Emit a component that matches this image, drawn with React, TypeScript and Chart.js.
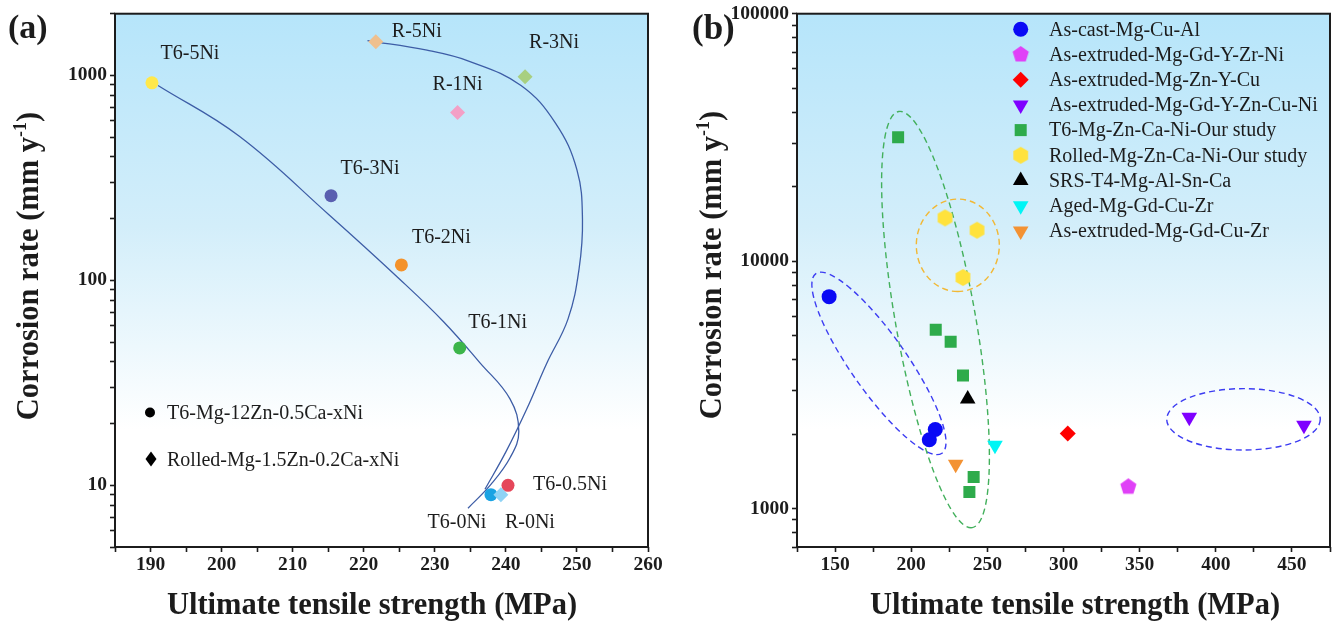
import React, { useEffect, useRef } from 'react';
import { Chart, registerables } from 'chart.js';
import { drawPoint } from 'chart.js/helpers';

Chart.register(...registerables);

const SERIF = '"Liberation Serif", "Times New Roman", serif';
const INK = '#1c1c1c';

// ---------- Panel (a): corrosion rate vs UTS for the Ni series ----------
const t6Names = ['T6-0Ni', 'T6-0.5Ni', 'T6-1Ni', 'T6-2Ni', 'T6-3Ni', 'T6-5Ni'];
const t6Uts = [237.9, 240.3, 233.5, 225.3, 215.4, 190.2];
const t6Rate = [9.0, 10.0, 46.8, 119, 259, 920];
const t6Colors = ['#1aa3e3', '#e5475a', '#3cb54a', '#f4922a', '#5a5fb0', '#ffe84a'];

const rolledNames = ['R-0Ni', 'R-1Ni', 'R-3Ni', 'R-5Ni'];
const rolledUts = [239.3, 233.2, 242.7, 221.7];
const rolledRate = [9.0, 659, 986, 1460];
const rolledColors = ['#8fd3f5', '#f3a0c6', '#a8cf80', '#efc08e'];

// hand-drawn trend curves through each series
const t6TrendUts = [191.05, 202.45, 215.1, 225.1, 231.3, 236.36, 240.58, 241.82, 240.63, 237.9, 234.67];
const t6TrendRate = [893, 506, 209, 101, 62.5, 39.6, 26.4, 18.3, 13.7, 10.1, 7.73];
const rolledTrendUts = [220.53, 228.9, 234.95, 242.13, 246.98, 250.0, 250.78, 250.29, 248.74, 245.71, 242.97, 240.02, 237.06];
const rolledTrendRate = [1479, 1327, 1169, 893, 585, 346, 198, 113, 64.7, 39.1, 23.7, 14.6, 9.57];

const legendA = ['T6-Mg-12Zn-0.5Ca-xNi', 'Rolled-Mg-1.5Zn-0.2Ca-xNi'];

const xTicksA = { min: 185, max: 260, step: 5, labelEvery: 10 };
const yMajorA = [10, 100, 1000];

// ---------- Panel (b): comparison with other Mg alloys ----------
const groupNames = [
  'As-cast-Mg-Cu-Al',
  'As-extruded-Mg-Gd-Y-Zr-Ni',
  'As-extruded-Mg-Zn-Y-Cu',
  'As-extruded-Mg-Gd-Y-Zn-Cu-Ni',
  'T6-Mg-Zn-Ca-Ni-Our study',
  'Rolled-Mg-Zn-Ca-Ni-Our study',
  'SRS-T4-Mg-Al-Sn-Ca',
  'Aged-Mg-Gd-Cu-Zr',
  'As-extruded-Mg-Gd-Cu-Zr',
];
const castUts = [146.1, 215.8, 211.9];
const castRate = [7190, 2090, 1900];
const gdYZrNiUts = [342.6];
const gdYZrNiRate = [1226];
const znYCuUts = [302.8];
const znYCuRate = [2013];
const gdYZnCuNiUts = [382.6, 457.9];
const gdYZnCuNiRate = [2339, 2174];
const t6StudyUts = [191.4, 216.1, 225.9, 234.0, 241.0, 238.2];
const t6StudyRate = [31700, 5280, 4730, 3450, 1342, 1168];
const rolledStudyUts = [222.2, 243.2, 234.0];
const rolledStudyRate = [14960, 13340, 8590];
const srsUts = [237.1];
const srsRate = [2772];
const agedUts = [255.0];
const agedRate = [1805];
const gdCuZrUts = [229.2];
const gdCuZrRate = [1510];

const xTicksB = { min: 125, max: 475, step: 25, labelEvery: 50 };
const yMajorB = [1000, 10000, 100000];

// dashed group outlines: major-axis end points (data units) and half width (px)
const groupOutlines = [
  { from: [137.4, 8910], to: [220.2, 1675], halfWidth: 28, color: '#3c3cf2' },
  { from: [191.8, 40270], to: [240.1, 838], halfWidth: 40, color: '#43b05c' },
  { from: [230.6, 17830], to: [230.6, 7540], halfWidth: 41.5, color: '#f2b834' },
  { from: [367.8, 2296], to: [468.6, 2296], halfWidth: 30.7, color: '#3c3cf2' },
];

// ---------- helpers ----------
function zip(xs: number[], ys: number[]) {
  return xs.map((x, i) => ({ x, y: ys[i] }));
}

function logTickValues(min: number, max: number) {
  const out: number[] = [];
  for (let e = Math.floor(Math.log10(min)); Math.pow(10, e) <= max; e++) {
    for (let m = 1; m < 10; m++) {
      const v = m * Math.pow(10, e);
      if (v >= min - 1e-9 && v <= max + 1e-9) out.push(v);
    }
  }
  return out;
}

function polygonImage(sides: number, radius: number, color: string) {
  const size = Math.ceil(radius * 2 + 2);
  const c = document.createElement('canvas');
  c.width = size;
  c.height = size;
  const g = c.getContext('2d')!;
  g.fillStyle = color;
  g.beginPath();
  for (let i = 0; i < sides; i++) {
    const a = (i * 2 * Math.PI) / sides;
    g.lineTo(size / 2 + radius * Math.sin(a), size / 2 - radius * Math.cos(a));
  }
  g.closePath();
  g.fill();
  return c;
}

const tickFont = { family: SERIF, size: 19.5, weight: 'bold' as const, lineHeight: 1.1 };

function xScale(t: { min: number; max: number; step: number; labelEvery: number }, height: number) {
  return {
    type: 'linear' as const,
    min: t.min,
    max: t.max,
    border: { display: false },
    grid: { drawOnChartArea: false, drawTicks: true, tickLength: 5, tickWidth: 1.6, tickColor: INK },
    ticks: {
      stepSize: t.step,
      autoSkip: false,
      maxRotation: 0,
      padding: 2,
      color: INK,
      font: tickFont,
      callback: (v: any) => (Math.abs(v % t.labelEvery) < 1e-6 ? String(v) : ''),
    },
    afterFit: (s: any) => {
      s.height = height;
    },
  };
}

function yScale(min: number, max: number, majors: number[], width: number) {
  return {
    type: 'logarithmic' as const,
    min,
    max,
    border: { display: false },
    grid: { drawOnChartArea: false, drawTicks: true, tickLength: 5, tickWidth: 1.6, tickColor: INK },
    afterBuildTicks: (s: any) => {
      s.ticks = logTickValues(min, max).map((value) => ({ value }));
    },
    ticks: {
      autoSkip: false,
      padding: 3,
      color: INK,
      font: tickFont,
      callback: (v: any) => (majors.some((m) => Math.abs(m - v) < 1e-6) ? String(v) : ''),
    },
    afterFit: (s: any) => {
      s.width = width;
    },
  };
}

const backdrop = {
  id: 'backdrop',
  beforeDraw(chart: any) {
    const { ctx, chartArea: a } = chart;
    const g = ctx.createLinearGradient(0, a.top, 0, a.bottom);
    g.addColorStop(0, '#b6e5fa');
    g.addColorStop(0.4, '#d3eefa');
    g.addColorStop(0.78, '#ffffff');
    g.addColorStop(1, '#ffffff');
    ctx.save();
    ctx.fillStyle = g;
    ctx.fillRect(a.left, a.top, a.width, a.height);
    ctx.restore();
  },
  afterDraw(chart: any) {
    const { ctx, chartArea: a } = chart;
    ctx.save();
    ctx.strokeStyle = INK;
    ctx.lineWidth = 2;
    ctx.strokeRect(a.left, a.top, a.width, a.height);
    ctx.restore();
  },
};

function drawAxisTitles(ctx: CanvasRenderingContext2D, xc: number, xBase: number, yBase: number, yc: number) {
  const big = `bold 30.5px ${SERIF}`;
  const small = `bold 18px ${SERIF}`;
  ctx.save();
  ctx.fillStyle = INK;
  ctx.font = big;
  ctx.textAlign = 'center';
  ctx.textBaseline = 'alphabetic';
  ctx.fillText('Ultimate tensile strength (MPa)', xc, xBase);
  ctx.restore();

  ctx.save();
  ctx.fillStyle = INK;
  ctx.translate(yBase, yc);
  ctx.rotate(-Math.PI / 2);
  ctx.textAlign = 'left';
  ctx.textBaseline = 'alphabetic';
  const head = 'Corrosion rate (mm y';
  const sup = '-1';
  const tail = ')';
  ctx.font = big;
  const w1 = ctx.measureText(head).width;
  const w3 = ctx.measureText(tail).width;
  ctx.font = small;
  const w2 = ctx.measureText(sup).width;
  let x = -(w1 + w2 + w3) / 2;
  ctx.font = big;
  ctx.fillText(head, x, 0);
  x += w1;
  ctx.font = small;
  ctx.fillText(sup, x, -12);
  x += w2;
  ctx.font = big;
  ctx.fillText(tail, x, 0);
  ctx.restore();
}

// label offsets (px) relative to each marker
const t6LabelOffsets = [
  [-34, 28],
  [62, -1],
  [38, -25],
  [40, -27],
  [39, -27],
  [38, -29],
];
const rolledLabelOffsets = [
  [29, 28],
  [0, -28],
  [29, -34],
  [41, -10],
];

const panelAText = {
  id: 'panelAText',
  afterDraw(chart: any) {
    const { ctx } = chart;
    const xs = chart.scales.x;
    const ys = chart.scales.y;
    ctx.save();
    ctx.fillStyle = INK;
    ctx.font = `20px ${SERIF}`;
    ctx.textAlign = 'center';
    ctx.textBaseline = 'middle';
    t6Names.forEach((n, i) => {
      const px = xs.getPixelForValue(t6Uts[i]);
      const py = ys.getPixelForValue(t6Rate[i]);
      ctx.fillText(n, px + t6LabelOffsets[i][0], py + t6LabelOffsets[i][1]);
    });
    rolledNames.forEach((n, i) => {
      const px = xs.getPixelForValue(rolledUts[i]);
      const py = ys.getPixelForValue(rolledRate[i]);
      ctx.fillText(n, px + rolledLabelOffsets[i][0], py + rolledLabelOffsets[i][1]);
    });

    // series key
    ctx.fillStyle = '#000';
    ctx.beginPath();
    ctx.arc(150, 412.5, 5, 0, Math.PI * 2);
    ctx.fill();
    ctx.beginPath();
    ctx.moveTo(151, 451.5);
    ctx.lineTo(156.5, 459);
    ctx.lineTo(151, 466.5);
    ctx.lineTo(145.5, 459);
    ctx.closePath();
    ctx.fill();
    ctx.fillStyle = INK;
    ctx.textAlign = 'left';
    ctx.fillText(legendA[0], 167, 414);
    ctx.fillText(legendA[1], 167, 461);

    ctx.font = `bold 34px ${SERIF}`;
    ctx.textAlign = 'left';
    ctx.textBaseline = 'alphabetic';
    ctx.fillText('(a)', 8, 38);
    ctx.restore();

    drawAxisTitles(ctx, 372, 614, 38, 266);
  },
};

const outlines = {
  id: 'outlines',
  beforeDatasetsDraw(chart: any) {
    const { ctx } = chart;
    const xs = chart.scales.x;
    const ys = chart.scales.y;
    ctx.save();
    ctx.lineWidth = 1.4;
    ctx.setLineDash([6, 4]);
    groupOutlines.forEach((e) => {
      const x1 = xs.getPixelForValue(e.from[0]);
      const y1 = ys.getPixelForValue(e.from[1]);
      const x2 = xs.getPixelForValue(e.to[0]);
      const y2 = ys.getPixelForValue(e.to[1]);
      const cx = (x1 + x2) / 2;
      const cy = (y1 + y2) / 2;
      const a = Math.hypot(x2 - x1, y2 - y1) / 2;
      const ang = Math.atan2(y2 - y1, x2 - x1);
      ctx.strokeStyle = e.color;
      ctx.beginPath();
      ctx.ellipse(cx, cy, a, e.halfWidth, ang, 0, Math.PI * 2);
      ctx.stroke();
    });
    ctx.restore();
  },
};

const panelBText = {
  id: 'panelBText',
  afterDraw(chart: any) {
    const { ctx } = chart;
    ctx.save();
    chart.data.datasets.forEach((ds: any, i: number) => {
      const y = 29.3 + i * 25.2;
      ctx.fillStyle = ds.backgroundColor;
      drawPoint(ctx, { pointStyle: ds.pointStyle, rotation: ds.pointRotation || 0, radius: ds.pointRadius, borderWidth: 0 } as any, 350.7, y);
      ctx.fillStyle = INK;
      ctx.font = `20px ${SERIF}`;
      ctx.textAlign = 'left';
      ctx.textBaseline = 'middle';
      ctx.fillText(groupNames[i], 379, y + 1);
    });
    ctx.fillStyle = INK;
    ctx.font = `bold 35px ${SERIF}`;
    ctx.textAlign = 'left';
    ctx.textBaseline = 'alphabetic';
    ctx.fillText('(b)', 22, 39);
    ctx.restore();

    drawAxisTitles(ctx, 405, 614, 51, 265);
  },
};

export default function App() {
  const refA = useRef<HTMLCanvasElement>(null);
  const refB = useRef<HTMLCanvasElement>(null);

  useEffect(() => {
    const common = {
      responsive: false,
      animation: false as const,
      devicePixelRatio: 1,
      events: [] as any[],
      plugins: { legend: { display: false }, tooltip: { enabled: false } },
    };

    const chartA = new Chart(refA.current!, {
      type: 'scatter',
      data: {
        datasets: [
          {
            data: zip(t6TrendUts, t6TrendRate),
            showLine: true,
            pointRadius: 0,
            borderColor: '#3d5da6',
            borderWidth: 1.3,
            tension: 0.4,
            order: 3,
          },
          {
            data: zip(rolledTrendUts, rolledTrendRate),
            showLine: true,
            pointRadius: 0,
            borderColor: '#3d5da6',
            borderWidth: 1.3,
            tension: 0.4,
            order: 3,
          },
          {
            data: zip(t6Uts, t6Rate),
            pointStyle: 'circle',
            pointRadius: 6.5,
            pointBorderWidth: 0,
            backgroundColor: t6Colors,
            borderColor: t6Colors,
            order: 1,
          },
          {
            data: zip(rolledUts, rolledRate),
            pointStyle: 'rectRot',
            pointRadius: 7.5,
            pointBorderWidth: 0,
            backgroundColor: rolledColors,
            borderColor: rolledColors,
            order: 0,
          },
        ],
      },
      options: {
        ...common,
        layout: { padding: { left: 0, top: 11, right: 22, bottom: 0 } },
        scales: {
          x: xScale(xTicksA, 77),
          y: yScale(5, 2000, yMajorA, 115),
        },
      } as any,
      plugins: [backdrop, panelAText],
    });

    const pentagon = polygonImage(5, 8.5, '#e041f7');
    const hexagon = polygonImage(6, 8.5, '#ffe23d');
    const mk = (xs: number[], ys: number[], style: any, color: string, radius: number, rotation = 0) => ({
      data: zip(xs, ys),
      pointStyle: style,
      pointRotation: rotation,
      pointRadius: radius,
      pointBorderWidth: 0,
      backgroundColor: color,
      borderColor: color,
    });

    const chartB = new Chart(refB.current!, {
      type: 'scatter',
      data: {
        datasets: [
          mk(castUts, castRate, 'circle', '#0a0af5', 7.5),
          mk(gdYZrNiUts, gdYZrNiRate, pentagon, '#e041f7', 8.5),
          mk(znYCuUts, znYCuRate, 'rectRot', '#ff0000', 8),
          mk(gdYZnCuNiUts, gdYZnCuNiRate, 'triangle', '#7f00ff', 9, 180),
          mk(t6StudyUts, t6StudyRate, 'rect', '#2eab4b', 8.5),
          mk(rolledStudyUts, rolledStudyRate, hexagon, '#ffe23d', 8.5),
          mk(srsUts, srsRate, 'triangle', '#000000', 9),
          mk(agedUts, agedRate, 'triangle', '#00f5f5', 9, 180),
          mk(gdCuZrUts, gdCuZrRate, 'triangle', '#f39233', 9, 180),
        ],
      },
      options: {
        ...common,
        layout: { padding: { left: 0, top: 11, right: 8, bottom: 0 } },
        scales: {
          x: xScale(xTicksB, 77),
          y: yScale(700, 100000, yMajorB, 127),
        },
      } as any,
      plugins: [backdrop, outlines, panelBText],
    });

    return () => {
      chartA.destroy();
      chartB.destroy();
    };
  }, []);

  return (
    <div style={{ position: 'absolute', left: 0, top: 0, width: 1339, height: 624, background: '#fff', overflow: 'hidden' }}>
      <canvas ref={refA} width={670} height={624} style={{ position: 'absolute', left: 0, top: 0, width: 670, height: 624 }} />
      <canvas ref={refB} width={669} height={624} style={{ position: 'absolute', left: 670, top: 0, width: 669, height: 624 }} />
    </div>
  );
}
